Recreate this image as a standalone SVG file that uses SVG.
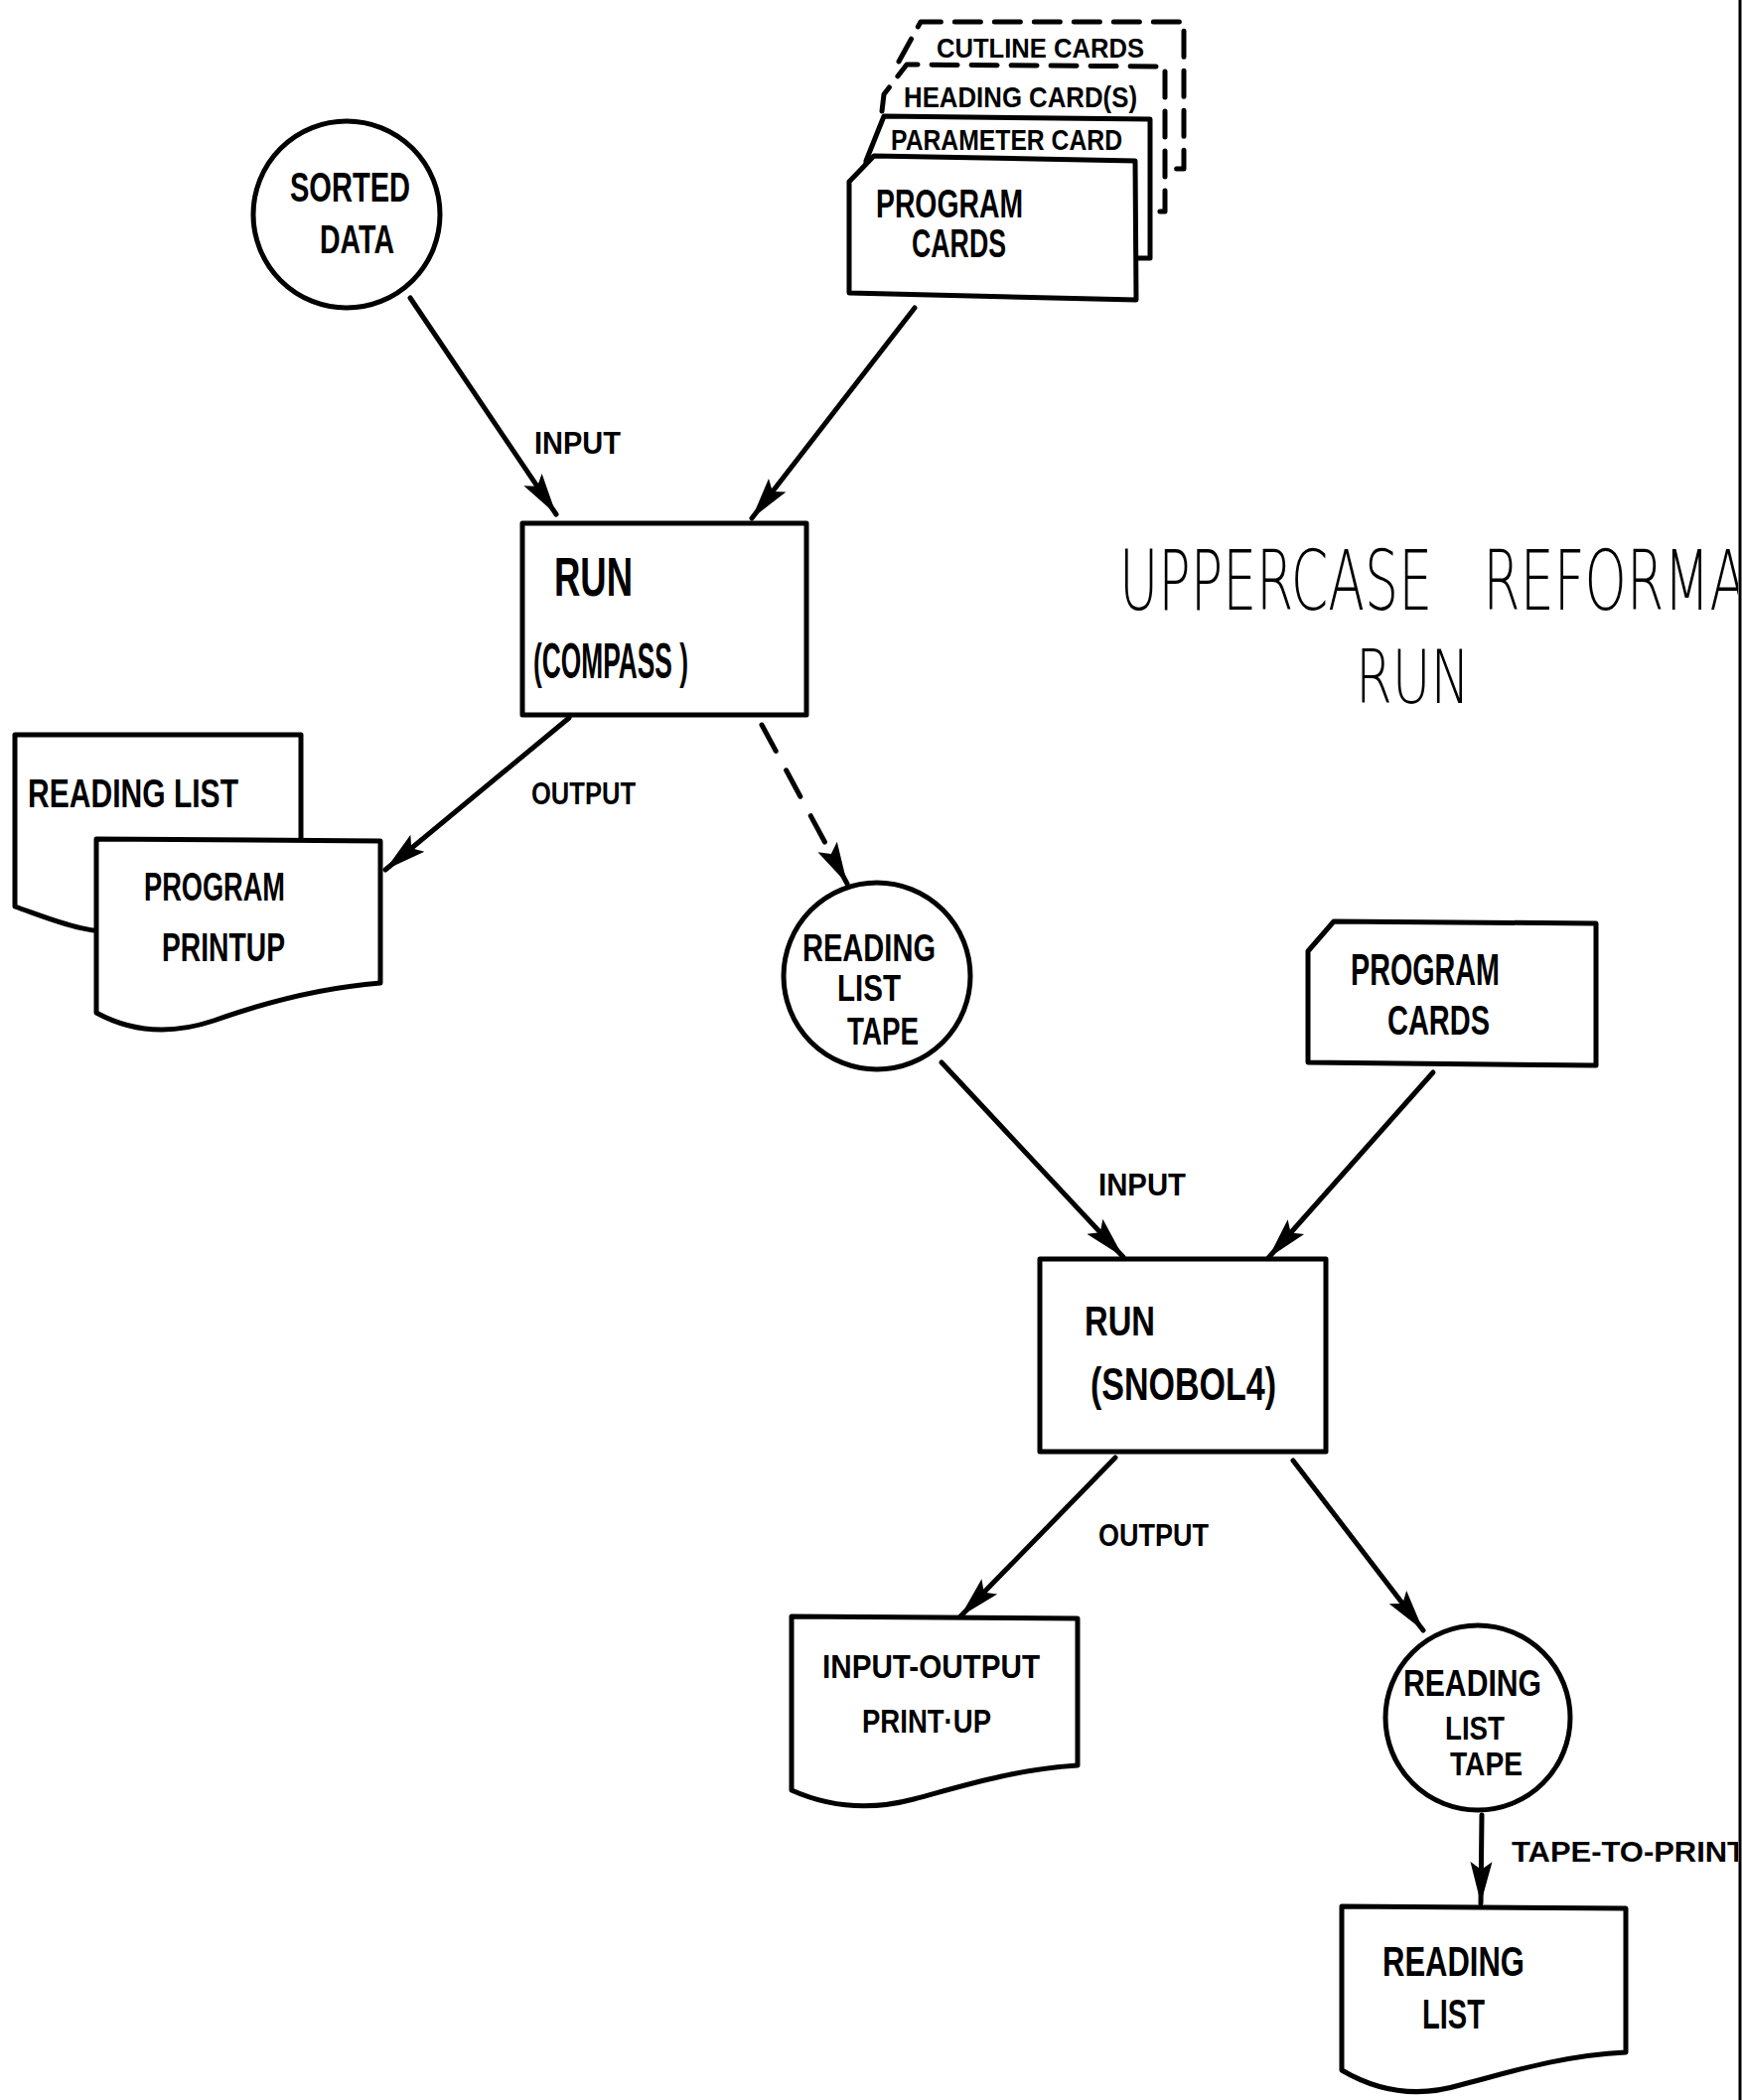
<svg xmlns="http://www.w3.org/2000/svg" width="1754" height="2115" viewBox="0 0 1754 2115">
<style>
.sh{fill:#fff;stroke:#000;stroke-width:5;stroke-linejoin:round;stroke-linecap:round}
.dsh{fill:none;stroke:#000;stroke-width:5;stroke-dasharray:26 14;stroke-linecap:round;stroke-linejoin:round}
.ln{fill:none;stroke:#000;stroke-width:5;stroke-linecap:round}
.dl{fill:none;stroke:#000;stroke-width:5;stroke-linecap:round;stroke-dasharray:30 22}
.t{font-family:"Liberation Sans",Arial,sans-serif;font-weight:bold;fill:#000}
.ti{font-family:"DejaVu Sans","Liberation Sans",sans-serif;font-weight:200;fill:#000;white-space:pre}
</style>
<defs>
<marker id="ah" markerUnits="userSpaceOnUse" markerWidth="44" markerHeight="26" viewBox="0 0 44 26" refX="42" refY="13" orient="auto">
<path d="M0,2 L42,13 L0,24 L8,13 Z" fill="#000"/>
</marker>
<clipPath id="pg"><rect x="0" y="0" width="1750" height="2115"/></clipPath>
</defs>
<rect x="0" y="0" width="1754" height="2115" fill="#fff"/>

<g id="connectors">
<line class="ln" x1="413" y1="300" x2="560" y2="518" marker-end="url(#ah)"/>
<line class="ln" x1="921" y1="310" x2="757" y2="522" marker-end="url(#ah)"/>
<line class="ln" x1="573" y1="723" x2="388" y2="876" marker-end="url(#ah)"/>
<line class="dl" x1="767" y1="730" x2="853" y2="890" marker-end="url(#ah)"/>
<line class="ln" x1="948" y1="1070" x2="1131" y2="1266" marker-end="url(#ah)"/>
<line class="ln" x1="1443" y1="1080" x2="1277" y2="1267" marker-end="url(#ah)"/>
<line class="ln" x1="1123" y1="1468" x2="967" y2="1628" marker-end="url(#ah)"/>
<line class="ln" x1="1302" y1="1471" x2="1433" y2="1642" marker-end="url(#ah)"/>
<line class="ln" x1="1492" y1="1828" x2="1491" y2="1917" marker-end="url(#ah)"/>
<text class="t" x="538" y="457" font-size="32" textLength="87" lengthAdjust="spacingAndGlyphs">INPUT</text>
<text class="t" x="535" y="810" font-size="32" textLength="105" lengthAdjust="spacingAndGlyphs">OUTPUT</text>
<text class="t" x="1106" y="1204" font-size="32" textLength="88" lengthAdjust="spacingAndGlyphs">INPUT</text>
<text class="t" x="1106" y="1557" font-size="32" textLength="111" lengthAdjust="spacingAndGlyphs">OUTPUT</text>
<text class="t" x="1522" y="1875" font-size="30" textLength="236" lengthAdjust="spacingAndGlyphs" clip-path="url(#pg)">TAPE-TO-PRINT</text>
</g>

<g id="sorted-data">
<circle class="sh" cx="349" cy="216" r="94"/>
<text class="t" x="292" y="203" font-size="42" textLength="121" lengthAdjust="spacingAndGlyphs">SORTED</text>
<text class="t" x="322" y="255" font-size="40" textLength="75" lengthAdjust="spacingAndGlyphs">DATA</text>
</g>

<g id="card-deck">
<path class="dsh" d="M905,62 L927,22 L1192,22 L1192,170 L1175,170"/>
<path class="dsh" d="M888,112 L890,95 L913,65 L1173,67 L1173,213 L1158,213"/>
<text class="t" x="943" y="58" font-size="28" textLength="209" lengthAdjust="spacingAndGlyphs">CUTLINE CARDS</text>
<text class="t" x="910" y="108" font-size="30" textLength="235" lengthAdjust="spacingAndGlyphs">HEADING CARD(S)</text>
<path class="sh" d="M872,162 L890,117 L1158,120 L1158,260 L872,260 Z"/>
<text class="t" x="897" y="151" font-size="29" textLength="233" lengthAdjust="spacingAndGlyphs">PARAMETER CARD</text>
<path class="sh" d="M855,183 L880,157 L1143,162 L1144,302 L855,295 Z"/>
<text class="t" x="882" y="219" font-size="40" textLength="148" lengthAdjust="spacingAndGlyphs">PROGRAM</text>
<text class="t" x="918" y="259" font-size="40" textLength="95" lengthAdjust="spacingAndGlyphs">CARDS</text>
</g>

<g id="run-compass">
<rect class="sh" x="526" y="527" width="286" height="193"/>
<text class="t" x="558" y="600" font-size="55" textLength="79" lengthAdjust="spacingAndGlyphs">RUN</text>
<text class="t" x="537" y="683" font-size="50" textLength="156" lengthAdjust="spacingAndGlyphs">(COMPASS )</text>
</g>

<g id="reading-list-printout">
<path class="sh" d="M15,740 L303,740 L303,880 C 250,885 200,930 140,938 C 90,944 50,925 15,913 Z"/>
<text class="t" x="28" y="813" font-size="40" textLength="212" lengthAdjust="spacingAndGlyphs">READING  LIST</text>
</g>

<g id="program-printup">
<path class="sh" d="M97,845 L383,847 L383,990 C 320,995 260,1012 215,1028 C 170,1043 130,1038 97,1020 Z"/>
<text class="t" x="145" y="907" font-size="40" textLength="142" lengthAdjust="spacingAndGlyphs">PROGRAM</text>
<text class="t" x="163" y="968" font-size="40" textLength="124" lengthAdjust="spacingAndGlyphs">PRINTUP</text>
</g>

<g id="reading-list-tape-1">
<circle class="sh" cx="883" cy="983" r="94"/>
<text class="t" x="808" y="968" font-size="38" textLength="134" lengthAdjust="spacingAndGlyphs">READING</text>
<text class="t" x="843" y="1008" font-size="36" textLength="64" lengthAdjust="spacingAndGlyphs">LIST</text>
<text class="t" x="853" y="1052" font-size="38" textLength="72" lengthAdjust="spacingAndGlyphs">TAPE</text>
</g>

<g id="program-cards-2">
<path class="sh" d="M1317,958 L1343,928 L1607,930 L1607,1073 L1317,1070 Z"/>
<text class="t" x="1360" y="992" font-size="44" textLength="150" lengthAdjust="spacingAndGlyphs">PROGRAM</text>
<text class="t" x="1397" y="1042" font-size="42" textLength="103" lengthAdjust="spacingAndGlyphs">CARDS</text>
</g>

<g id="run-snobol4">
<rect class="sh" x="1047" y="1268" width="288" height="194"/>
<text class="t" x="1092" y="1345" font-size="42" textLength="71" lengthAdjust="spacingAndGlyphs">RUN</text>
<text class="t" x="1098" y="1410" font-size="46" textLength="187" lengthAdjust="spacingAndGlyphs">(SNOBOL4)</text>
</g>

<g id="input-output-printup">
<path class="sh" d="M797,1628 L1085,1630 L1085,1778 C 1020,1782 965,1800 920,1812 C 875,1824 835,1820 797,1803 Z"/>
<text class="t" x="828" y="1690" font-size="34" textLength="219" lengthAdjust="spacingAndGlyphs">INPUT-OUTPUT</text>
<text class="t" x="868" y="1745" font-size="34" textLength="130" lengthAdjust="spacingAndGlyphs">PRINT·UP</text>
</g>

<g id="reading-list-tape-2">
<circle class="sh" cx="1488" cy="1730" r="93"/>
<text class="t" x="1413" y="1708" font-size="36" textLength="139" lengthAdjust="spacingAndGlyphs">READING</text>
<text class="t" x="1455" y="1752" font-size="34" textLength="60" lengthAdjust="spacingAndGlyphs">LIST</text>
<text class="t" x="1460" y="1788" font-size="34" textLength="73" lengthAdjust="spacingAndGlyphs">TAPE</text>
</g>

<g id="reading-list">
<path class="sh" d="M1351,1920 L1637,1922 L1637,2067 C 1570,2070 1510,2090 1470,2100 C 1430,2112 1390,2108 1351,2085 Z"/>
<text class="t" x="1392" y="1990" font-size="42" textLength="143" lengthAdjust="spacingAndGlyphs">READING</text>
<text class="t" x="1432" y="2043" font-size="42" textLength="63" lengthAdjust="spacingAndGlyphs">LIST</text>
</g>

<g id="title" clip-path="url(#pg)">
<text class="ti" x="1127" y="614" font-size="84" textLength="660" lengthAdjust="spacingAndGlyphs" xml:space="preserve">UPPERCASE   REFORMAT</text>
<text class="ti" x="1365" y="708" font-size="74" textLength="115" lengthAdjust="spacingAndGlyphs">RUN</text>
</g>

<line x1="1752" y1="0" x2="1752" y2="2115" stroke="#000" stroke-width="3"/>
</svg>
